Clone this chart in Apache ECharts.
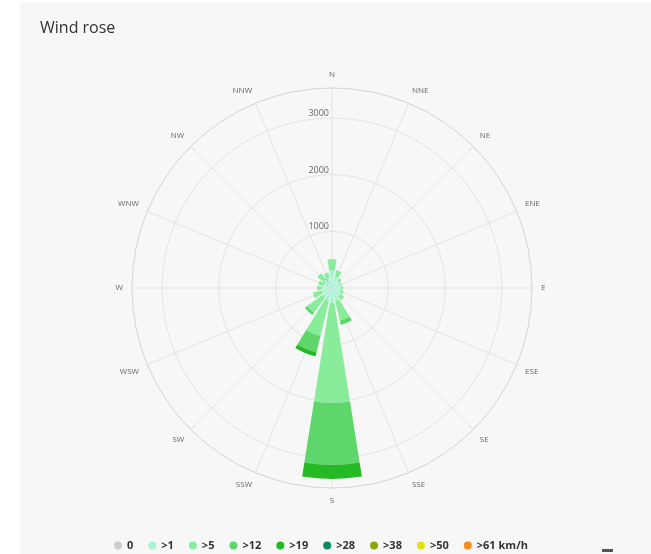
<!DOCTYPE html>
<html>
<head>
<meta charset="utf-8">
<script src="https://cdn.jsdelivr.net/npm/echarts@6/dist/echarts.min.js"></script>
<style>
html,body{margin:0;padding:0;background:#ffffff;}
#bg{position:absolute;left:20px;top:2px;width:631px;height:552px;background:#f7f7f7;}
#chart{position:absolute;left:0;top:0;width:651px;height:554px;}
</style>
</head>
<body>
<div id="bg"></div>
<div id="chart"></div>
<script>
const directions = ['N','NNE','NE','ENE','E','ESE','SE','SSE','S','SSW','SW','WSW','W','WNW','NW','NNW'];
const seriesNames = ['0','>1','>5','>12','>19','>28','>38','>50','>61 km/h'];
const seriesColors = ['#cccccc','#a8f3d4','#88ec9b','#5fd66b','#26b926','#0b8a5c','#8aa80c','#e2e20e','#f5891a'];

const calm  = [10, 10, 10, 10, 10, 10, 10, 10, 10, 10, 10, 10, 10, 10, 10, 10];
const gt1   = [300, 200, 150, 130, 140, 150, 170, 220, 250, 220, 200, 180, 160, 150, 180, 170];
const gt5   = [200, 110, 50, 40, 45, 50, 85, 360, 1770, 640, 330, 160, 95, 90, 130, 100];
const gt12  = [0, 0, 0, 0, 0, 0, 0, 80, 1090, 300, 50, 0, 0, 0, 0, 0];
const gt19  = [0, 0, 0, 0, 0, 0, 0, 0, 250, 70, 0, 0, 0, 0, 0, 0];
const gt28  = [0, 0, 0, 0, 0, 0, 0, 0, 0, 0, 0, 0, 0, 0, 0, 0];
const gt38  = [0, 0, 0, 0, 0, 0, 0, 0, 0, 0, 0, 0, 0, 0, 0, 0];
const gt50  = [0, 0, 0, 0, 0, 0, 0, 0, 0, 0, 0, 0, 0, 0, 0, 0];
const gt61  = [0, 0, 0, 0, 0, 0, 0, 0, 0, 0, 0, 0, 0, 0, 0, 0];
const seriesData = [calm, gt1, gt5, gt12, gt19, gt28, gt38, gt50, gt61];
const radiusTicks = [0, 1000, 2000, 3000];
const radiusMax = 3530;

const chart = echarts.init(document.getElementById('chart'), null, {renderer: 'canvas'});
const font = '"Open Sans", "Noto Sans", sans-serif';
const sectorDeg = 360 / directions.length;

const series = seriesNames.map((name, i) => ({
  name: name,
  type: 'bar',
  coordinateSystem: 'polar',
  polarIndex: 0,
  stack: 'wind',
  data: seriesData[i],
  barCategoryGap: '20%',
  itemStyle: {color: seriesColors[i]},
  emphasis: {disabled: true}
}));

chart.setOption({
  animation: false,
  textStyle: {fontFamily: font},
  title: {
    text: 'Wind rose',
    left: 35,
    top: 15,
    textStyle: {fontSize: 16, fontWeight: 'normal', color: '#333333', fontFamily: font}
  },
  legend: {
    data: seriesNames,
    left: 109,
    top: 535,
    icon: 'circle',
    itemWidth: 8,
    itemHeight: 8,
    itemGap: 15,
    textStyle: {fontSize: 11, fontWeight: 'bold', color: '#333333'}
  },
  polar: [
    {center: [332, 288], radius: 200},
    {center: [332, 288], radius: 200}
  ],
  angleAxis: [
    {
      polarIndex: 0,
      type: 'category',
      data: directions,
      boundaryGap: true,
      startAngle: 90 + sectorDeg / 2,
      clockwise: true,
      axisLine: {show: false},
      axisTick: {show: false},
      axisLabel: {fontSize: 8, color: '#666666', margin: 9},
      splitLine: {show: false}
    },
    {
      polarIndex: 1,
      type: 'value',
      min: 0,
      max: 360,
      interval: sectorDeg,
      startAngle: 90,
      clockwise: true,
      axisLine: {show: true, lineStyle: {color: '#d8d8d8', width: 1}},
      axisTick: {show: false},
      axisLabel: {show: false},
      splitLine: {show: true, lineStyle: {color: '#e3e3e3', width: 1}}
    }
  ],
  radiusAxis: [
    {
      polarIndex: 0,
      type: 'value',
      min: 0,
      max: radiusMax,
      interval: 1000,
      axisLine: {show: false},
      axisTick: {show: false},
      axisLabel: {show: false},
      splitLine: {show: false}
    },
    {
      polarIndex: 1,
      type: 'value',
      min: 0,
      max: radiusMax,
      interval: 1000,
      axisLine: {show: false},
      axisTick: {show: false},
      axisLabel: {
        fontSize: 9,
        color: '#666666',
        margin: 3,
        verticalAlign: 'bottom',
        formatter: function (v) { return radiusTicks.indexOf(v) >= 0 ? String(v) : ''; }
      },
      splitLine: {show: true, lineStyle: {color: '#e3e3e3', width: 1}}
    }
  ],
  graphic: [
    {type: 'rect', left: 602, top: 549, shape: {width: 11, height: 3}, style: {fill: '#555555'}, silent: true}
  ],
  series: series
});
</script>
</body>
</html>
